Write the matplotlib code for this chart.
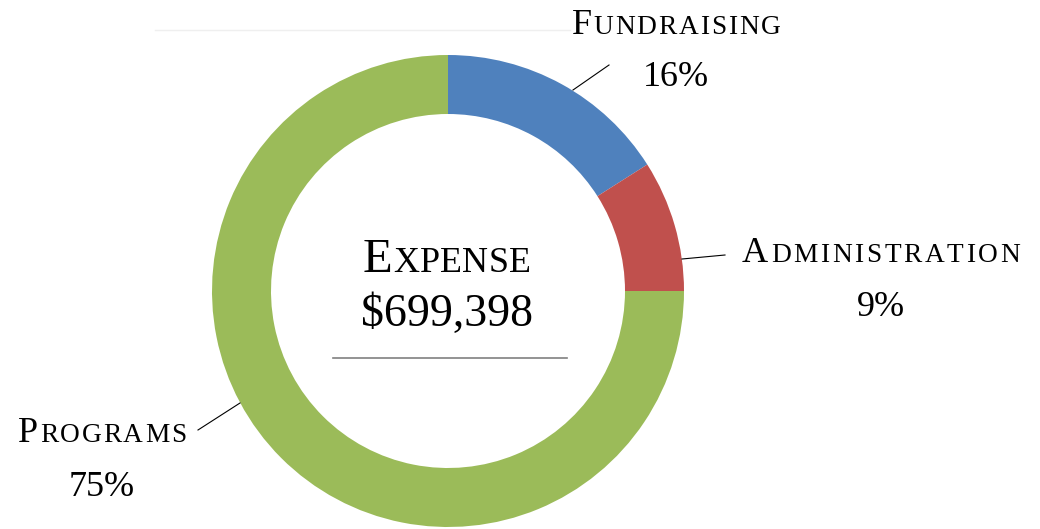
import matplotlib
matplotlib.use("Agg")
import matplotlib.pyplot as plt
from matplotlib.offsetbox import TextArea, HPacker, AnnotationBbox

# chart data
categories = ["Fundraising", "Administration", "Programs"]
shares = [16, 9, 75]
colors = ["#4F81BD", "#C0504D", "#9BBB59"]
title = "Expense"
total = "$699,398"

W, H = 1040, 529
FONT = "Liberation Serif"


def py(y):
    # pixel row (from top) -> data y
    return H - y


def smallcaps(ax, text, x, y, size, track=1.6, ratio=0.76):
    parts = [TextArea(text[0], textprops=dict(fontsize=size, family=FONT, color="black"))]
    for ch in text[1:].upper():
        parts.append(TextArea(ch, textprops=dict(fontsize=size * ratio, family=FONT, color="black")))
    box = HPacker(children=parts, align="baseline", pad=0, sep=track)
    ab = AnnotationBbox(box, (x, py(y)), xycoords="data", frameon=False,
                        box_alignment=(0.5, 0.5), pad=0)
    ax.add_artist(ab)


fig = plt.figure(figsize=(W / 100, H / 100), dpi=100)
ax = fig.add_axes([0, 0, 1, 1])

cx, cy, R = 448, py(291), 236
ax.pie(shares, colors=colors, startangle=90, counterclock=False,
       center=(cx, cy), radius=R, frame=True,
       wedgeprops=dict(width=R * 0.25, edgecolor="none"))
ax.set_xlim(0, W)
ax.set_ylim(0, H)
ax.set_aspect("equal")
ax.axis("off")

# faint rule at top
ax.plot([155, 570], [py(30), py(30)], color="#efefef", lw=1)

# labels: (label center x, label center y, pct center y, leader line)
label_pos = [
    (676, 25, 77, ((573, 90), (609, 65))),
    (881, 254, 307, ((682, 259), (725, 255))),
    (102, 434, 487, ((198, 430), (240, 403))),
]
for name, val, (lx, ly, pyy, line) in zip(categories, shares, label_pos):
    smallcaps(ax, name, lx, ly, 26, track=1.9 if name == "Administration" else 1.3)
    ax.text(lx, py(pyy), f"{val}%", fontsize=26, family=FONT,
            ha="center", va="center")
    (x0, y0), (x1, y1) = line
    ax.plot([x0, x1], [py(y0), py(y1)], color="black", lw=0.8)

# center text
smallcaps(ax, title, 447, 260, 35, track=0.3, ratio=0.74)
ax.text(447, py(315), total, fontsize=33, family=FONT, ha="center", va="center")
ax.plot([333, 567], [py(358), py(358)], color="#808080", lw=1.2)

fig.savefig("out.png", dpi=100)
